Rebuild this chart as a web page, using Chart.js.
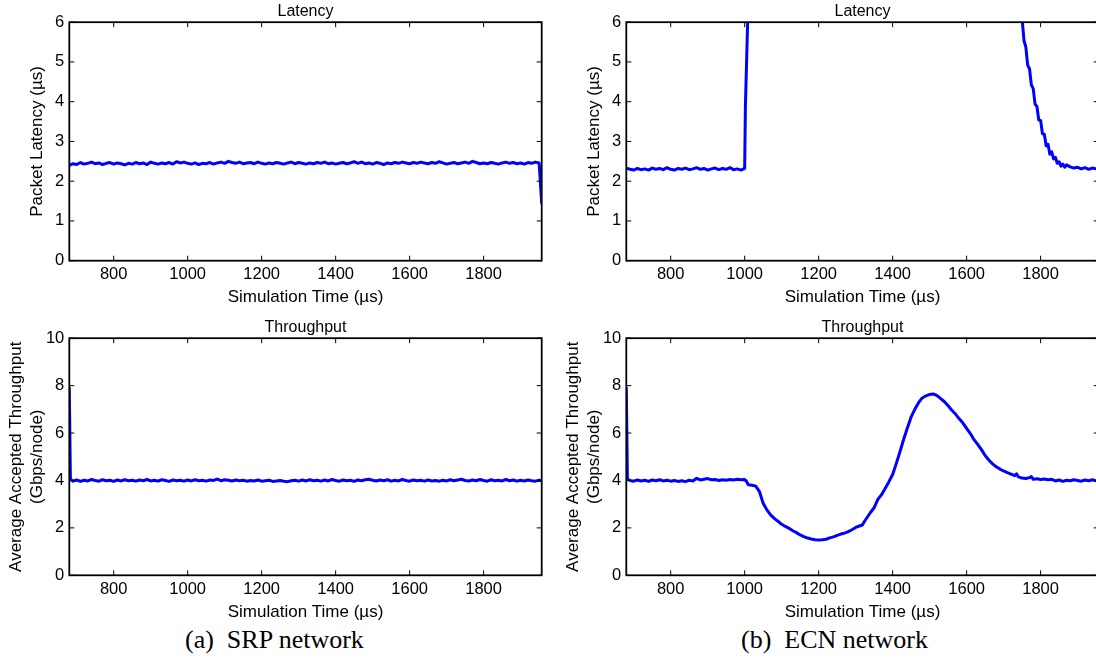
<!DOCTYPE html>
<html>
<head>
<meta charset="utf-8">
<title>SRP vs ECN network</title>
<script src="https://cdn.jsdelivr.net/npm/chart.js@4.4.1/dist/chart.umd.min.js"></script>
<style>
    html, body { margin: 0; padding: 0; background: #fff; }
    #page { position: relative; width: 1096px; height: 662px; overflow: hidden; }
    canvas { position: absolute; }
    .caption {
        position: absolute;
        top: 625px;
        font-family: "Liberation Serif", "Times New Roman", serif;
        font-size: 26px;
        color: #000;
        white-space: pre;
    }
</style>
</head>
<body>
<div id="page">
    <canvas id="srp-latency" width="548" height="310" style="left:0;top:0"></canvas>
    <canvas id="ecn-latency" width="548" height="310" style="left:557px;top:0"></canvas>
    <canvas id="srp-tput" width="548" height="309" style="left:0;top:316px"></canvas>
    <canvas id="ecn-tput" width="548" height="309" style="left:557px;top:316px"></canvas>
    <div class="caption" style="left:185px">(a)  SRP network</div>
    <div class="caption" style="left:741px">(b)  ECN network</div>
</div>
<script>
"use strict";

// tick labels
const xTicks = [800, 1000, 1200, 1400, 1600, 1800];
const latencyTicks = [0, 1, 2, 3, 4, 5, 6];
const throughputTicks = [0, 2, 4, 6, 8, 10];

// sample times (us) shared by the flat SRP traces
const gridUs = [690, 700, 710, 720, 730, 740, 750, 760, 770, 780, 790, 800, 810, 820, 830, 840,
    850, 860, 870, 880, 890, 900, 910, 920, 930, 940, 950, 960, 970, 980, 990, 1000,
    1010, 1020, 1030, 1040, 1050, 1060, 1070, 1080, 1090, 1100, 1110, 1120, 1130, 1140, 1150, 1160,
    1170, 1180, 1190, 1200, 1210, 1220, 1230, 1240, 1250, 1260, 1270, 1280, 1290, 1300, 1310, 1320,
    1330, 1340, 1350, 1360, 1370, 1380, 1390, 1400, 1410, 1420, 1430, 1440, 1450, 1460, 1470, 1480,
    1490, 1500, 1510, 1520, 1530, 1540, 1550, 1560, 1570, 1580, 1590, 1600, 1610, 1620, 1630, 1640,
    1650, 1660, 1670, 1680, 1690, 1700, 1710, 1720, 1730, 1740, 1750, 1760, 1770, 1780, 1790, 1800,
    1810, 1820, 1830, 1840, 1850, 1860, 1870, 1880, 1890, 1900, 1910, 1920, 1930, 1940, 1950];

// (a) SRP latency
const srpLatencyUs = [680, ...gridUs, 1957];
const srpLatency = [2.40, 2.44, 2.42, 2.47, 2.43, 2.45, 2.48, 2.44, 2.46, 2.42, 2.45, 2.47, 2.43, 2.46, 2.44, 2.41,
    2.45, 2.43, 2.47, 2.44, 2.46, 2.42, 2.48, 2.45, 2.43, 2.46, 2.44, 2.47, 2.43, 2.49, 2.46, 2.48,
    2.45, 2.43, 2.46, 2.42, 2.45, 2.44, 2.47, 2.43, 2.46, 2.48, 2.45, 2.50, 2.47, 2.45, 2.48, 2.44,
    2.46, 2.47, 2.44, 2.48, 2.45, 2.43, 2.46, 2.44, 2.47, 2.45, 2.43, 2.46, 2.48, 2.44, 2.47, 2.45,
    2.43, 2.46, 2.44, 2.47, 2.45, 2.48, 2.44, 2.46, 2.43, 2.45, 2.47, 2.44, 2.46, 2.49, 2.45, 2.48,
    2.44, 2.46, 2.43, 2.47, 2.45, 2.42, 2.46, 2.44, 2.47, 2.45, 2.48, 2.46, 2.44, 2.47, 2.45, 2.48,
    2.46, 2.44, 2.47, 2.45, 2.49, 2.46, 2.43, 2.45, 2.47, 2.44, 2.46, 2.48, 2.45, 2.50, 2.47, 2.44,
    2.46, 2.44, 2.47, 2.45, 2.43, 2.46, 2.48, 2.45, 2.47, 2.44, 2.46, 2.43, 2.47, 2.45, 2.48, 2.46,
    1.45];

// (a) SRP throughput
const srpTputUs = [680, 683, ...gridUs, 1957];
const srpTput = [7.90, 4.05,
    3.97, 4.02, 3.96, 4.01, 3.98, 4.04, 4.00, 3.97, 4.03, 3.99, 4.01, 3.96, 4.02, 3.98, 4.03, 3.99,
    4.01, 3.97, 4.02, 3.99, 4.04, 3.98, 4.01, 3.97, 4.03, 4.00, 3.96, 4.02, 3.99, 4.01, 3.97, 4.02,
    3.98, 4.03, 3.99, 4.01, 3.97, 4.02, 4.00, 4.06, 3.99, 4.03, 4.01, 3.98, 4.02, 3.99, 4.01, 3.97,
    4.00, 3.98, 4.02, 3.97, 3.99, 4.01, 3.96, 3.98, 4.00, 3.97, 3.95, 3.99, 4.01, 3.97, 4.02, 3.98,
    4.03, 3.99, 4.01, 3.97, 4.02, 3.98, 4.04, 4.00, 3.97, 4.02, 3.99, 4.01, 3.96, 4.02, 3.99, 4.03,
    4.05, 4.01, 3.98, 4.02, 3.99, 4.03, 3.97, 4.01, 3.98, 4.04, 4.00, 3.97, 4.02, 3.99, 4.01, 3.97,
    4.02, 3.98, 4.00, 3.97, 4.01, 3.98, 4.03, 3.99, 4.02, 4.05, 4.00, 3.98, 4.02, 3.99, 4.04, 4.00,
    3.97, 4.03, 3.99, 4.01, 3.98, 4.04, 3.99, 4.02, 3.97, 4.01, 3.98, 4.02, 3.99, 3.97, 4.01,
    4.00];

// (b) ECN latency (null = above the axis, not visible)
const ecnLatencyUs = [680, 690, 700, 710, 720, 730, 740, 750, 760, 770, 780, 790, 800, 810, 820, 830,
    840, 850, 860, 870, 880, 890, 900, 910, 920, 930, 940, 950, 960, 970, 980, 990, 1000,
    1002, 1008, 1012, 1400, 1745,
    1750, 1755, 1760, 1765, 1770, 1775, 1780, 1785, 1790, 1795, 1800, 1805, 1810, 1815, 1820, 1825,
    1830, 1835, 1840, 1845, 1850, 1855, 1860, 1865, 1870,
    1880, 1890, 1900, 1910, 1920, 1930, 1940, 1950, 1957];
const ecnLatency = [2.33, 2.30, 2.28, 2.32, 2.29, 2.31, 2.28, 2.33, 2.30, 2.32, 2.29, 2.34, 2.30, 2.28, 2.32, 2.30,
    2.33, 2.29, 2.31, 2.34, 2.30, 2.32, 2.28, 2.31, 2.33, 2.29, 2.32, 2.30, 2.34, 2.29, 2.31, 2.28, 2.32,
    3.90, 6.00, 7.50, null, 6.50,
    6.08, 5.54, 5.38, 4.92, 4.83, 4.42, 4.33, 3.94, 3.88, 3.54, 3.53, 3.19, 3.18, 2.89, 2.93, 2.68,
    2.74, 2.56, 2.60, 2.45, 2.49, 2.38, 2.43, 2.35, 2.41,
    2.36, 2.33, 2.35, 2.31, 2.34, 2.30, 2.33, 2.31, 2.32];

// (b) ECN throughput
const ecnTputUs = [680, 683, 690, 700, 710, 720, 730, 740, 750, 760, 770, 780, 790, 800, 810, 820,
    830, 840, 850, 860, 870, 880, 890, 900, 910, 920, 930, 940, 950, 960, 970, 980, 990, 1000, 1005,
    1010, 1020, 1030, 1040, 1050, 1060, 1070, 1080, 1090, 1100, 1110, 1120, 1130, 1140, 1150, 1160,
    1170, 1180, 1190, 1200, 1210, 1220, 1230, 1240, 1250, 1260, 1270, 1280, 1290, 1300, 1310, 1318,
    1325, 1340, 1350, 1360, 1370, 1380, 1390, 1400, 1410, 1420, 1430, 1440, 1450, 1460, 1470, 1480,
    1490, 1500, 1510, 1520, 1530, 1540, 1550, 1560, 1570, 1580, 1590, 1600, 1610, 1620, 1630, 1640,
    1650, 1660, 1670, 1680, 1690, 1700, 1710, 1720, 1730, 1735, 1740, 1750, 1760, 1770, 1775, 1780,
    1790, 1800, 1810, 1820, 1830, 1840, 1850, 1860, 1870, 1880, 1890, 1900, 1910, 1920, 1930, 1940,
    1950, 1957];
const ecnTput = [7.90, 4.05, 4.00, 3.97, 4.02, 3.98, 4.01, 3.96, 4.02, 3.99, 4.03, 3.98, 4.01, 3.97, 4.00, 3.96,
    3.99, 3.95, 4.01, 3.98, 4.09, 4.02, 4.05, 4.08, 4.03, 4.04, 4.00, 4.03, 4.01, 4.04, 4.02, 4.05, 4.03, 4.04, 3.96,
    3.82, 3.80, 3.76, 3.53, 3.04, 2.76, 2.55, 2.40, 2.28, 2.15, 2.06, 1.98, 1.88, 1.80, 1.70, 1.63,
    1.57, 1.53, 1.50, 1.49, 1.50, 1.52, 1.58, 1.62, 1.68, 1.74, 1.78, 1.84, 1.92, 2.02, 2.08, 2.12,
    2.30, 2.65, 2.85, 3.20, 3.40, 3.67, 3.95, 4.25, 4.72, 5.22, 5.75, 6.22, 6.68, 7.00, 7.28, 7.48,
    7.57, 7.63, 7.65, 7.58, 7.45, 7.32, 7.15, 6.96, 6.80, 6.60, 6.42, 6.20, 5.98, 5.72, 5.52, 5.30,
    5.05, 4.86, 4.70, 4.58, 4.48, 4.40, 4.33, 4.27, 4.20, 4.28, 4.15, 4.10, 4.08, 4.12, 4.16, 4.05,
    4.07, 4.04, 4.06, 4.03, 4.05, 3.98, 4.02, 3.96, 4.01, 3.99, 4.03, 4.00, 3.97, 4.02, 3.99, 4.03,
    3.98, 4.00];

const lineBlue = "rgb(0, 0, 255)";

Chart.defaults.font.family = "'Liberation Sans', Arial, Helvetica, sans-serif";
Chart.defaults.color = "#000";

// matlab style frame: box round the plot, ticks pointing inwards on all four sides
const boxTicks = {
    id: "boxTicks",
    afterDatasetsDraw(chart) {
        const {ctx, chartArea: a, scales: {x, y}} = chart;
        ctx.save();
        ctx.strokeStyle = "#000";
        ctx.lineWidth = 1;
        ctx.beginPath();
        x.ticks.forEach((t) => {
            const px = x.getPixelForValue(t.value);
            ctx.moveTo(px, a.bottom);
            ctx.lineTo(px, a.bottom - 5);
            ctx.moveTo(px, a.top);
            ctx.lineTo(px, a.top + 5);
        });
        y.ticks.forEach((t) => {
            const py = y.getPixelForValue(t.value);
            ctx.moveTo(a.left, py);
            ctx.lineTo(a.left + 5, py);
            ctx.moveTo(a.right, py);
            ctx.lineTo(a.right - 5, py);
        });
        ctx.stroke();
        ctx.lineWidth = 1.8;
        ctx.strokeRect(a.left, a.top, a.right - a.left, a.bottom - a.top);
        ctx.restore();
    }
};

function toPoints(times, values) {
    return times.map((t, i) => ({x: t, y: values[i]}));
}

function makePanel(id, opts) {
    const canvas = document.getElementById(id);
    return new Chart(canvas, {
        type: "line",
        data: {
            datasets: [{
                data: toPoints(opts.times, opts.values),
                borderColor: lineBlue,
                borderWidth: 3,
                pointRadius: 0,
                tension: 0,
                spanGaps: false,
                borderJoinStyle: "round",
                borderCapStyle: "round"
            }]
        },
        options: {
            responsive: false,
            animation: false,
            events: [],
            layout: {padding: {left: 0, right: 6.3, top: 0, bottom: 0}},
            plugins: {
                legend: {display: false},
                tooltip: {enabled: false},
                title: {
                    display: true,
                    text: opts.title,
                    fullSize: false,
                    color: "#000",
                    font: {size: 16, weight: "normal"},
                    padding: {top: 2, bottom: 1}
                }
            },
            scales: {
                x: {
                    type: "linear",
                    min: 680,
                    max: 1957,
                    grid: {display: false, drawTicks: false},
                    border: {display: false},
                    afterBuildTicks: (s) => { s.ticks = xTicks.map((v) => ({value: v})); },
                    afterFit: (s) => { s.height = opts.xAxisHeight; },
                    ticks: {font: {size: 16.5}, padding: 4, maxRotation: 0, autoSkip: false, callback: (v) => String(v)},
                    title: {display: true, text: "Simulation Time (µs)", font: {size: 17}, padding: {top: 0, bottom: 2}}
                },
                y: {
                    type: "linear",
                    min: 0,
                    max: opts.yMax,
                    grid: {display: false, drawTicks: false},
                    border: {display: false},
                    afterBuildTicks: (s) => { s.ticks = opts.yTicks.map((v) => ({value: v})); },
                    afterFit: (s) => { s.width = 69.3; },
                    ticks: {font: {size: 16.5}, padding: 5, callback: (v) => String(v)},
                    title: {display: true, text: opts.yTitle, font: {size: 17}, padding: {top: opts.yTitlePad, bottom: 0}}
                }
            }
        },
        plugins: [boxTicks]
    });
}

makePanel("srp-latency", {
    times: srpLatencyUs, values: srpLatency, title: "Latency",
    yMax: 6, yTicks: latencyTicks, yTitle: "Packet Latency (µs)", yTitlePad: 27.5, xAxisHeight: 49.3
});
makePanel("ecn-latency", {
    times: ecnLatencyUs, values: ecnLatency, title: "Latency",
    yMax: 6, yTicks: latencyTicks, yTitle: "Packet Latency (µs)", yTitlePad: 27.5, xAxisHeight: 49.3
});
makePanel("srp-tput", {
    times: srpTputUs, values: srpTput, title: "Throughput",
    yMax: 10, yTicks: throughputTicks, yTitle: ["Average Accepted Throughput", "(Gbps/node)"], yTitlePad: 6.5, xAxisHeight: 49.7
});
makePanel("ecn-tput", {
    times: ecnTputUs, values: ecnTput, title: "Throughput",
    yMax: 10, yTicks: throughputTicks, yTitle: ["Average Accepted Throughput", "(Gbps/node)"], yTitlePad: 6.5, xAxisHeight: 49.7
});
</script>
</body>
</html>
